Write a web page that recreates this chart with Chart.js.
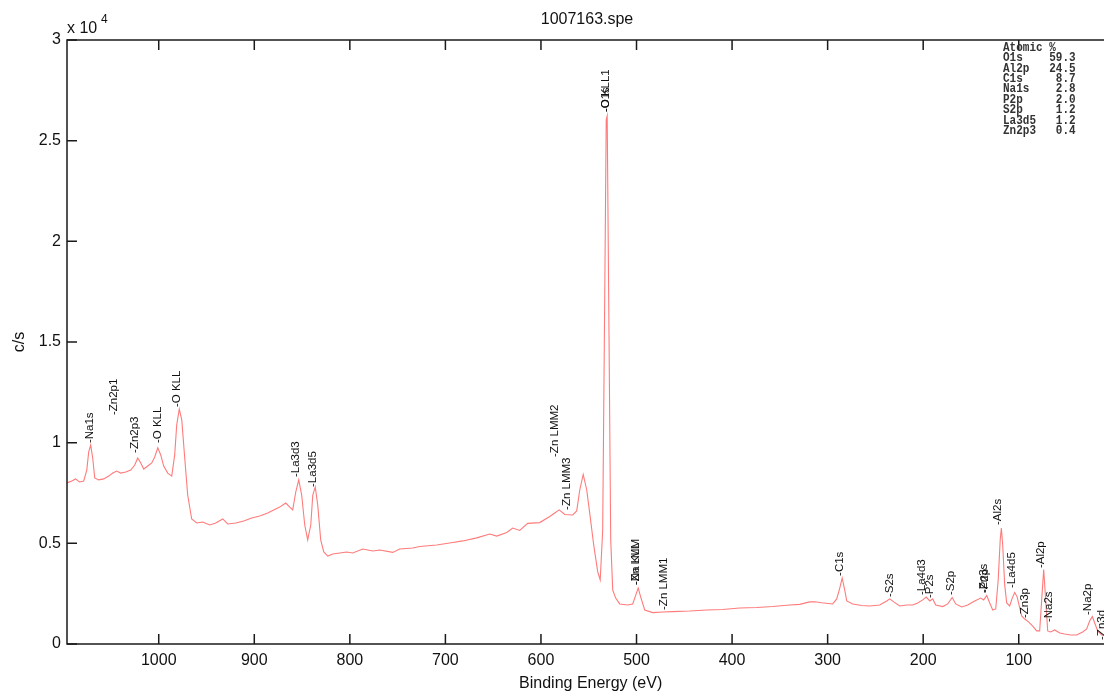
<!DOCTYPE html>
<html>
<head>
<meta charset="utf-8">
<title>1007163.spe</title>
<script src="https://cdn.jsdelivr.net/npm/chart.js@4.4.1/dist/chart.umd.min.js"></script>
<style>
    html, body { margin: 0; padding: 0; background: #fff; overflow: hidden; }
    #wrap { width: 1130px; height: 693px; }
</style>
</head>
<body>
<div id="wrap"><canvas id="survey" width="1130" height="693"></canvas></div>
<script>
// binding energy (eV) and intensity (c/s)
const BE = [
    1096, 1091, 1087, 1083, 1078.5, 1075.3, 1073.3, 1071.2, 1069.1, 1067,
    1062.8, 1057.6, 1052.3, 1048.1, 1044, 1039.8, 1034.5, 1029.3, 1025.1, 1022,
    1018.8, 1015.7, 1011.5, 1007.3, 1004.2, 1001, 997.9, 994.8, 990.6, 986.4,
    983.3, 981.2, 978.5, 975.9, 972.8, 969.7, 965.5, 960.2, 954, 946.6,
    940.4, 933, 927.8, 919.4, 911.1, 902.7, 894.3, 885.9, 879.7, 873.4,
    867.1, 862.9, 859.8, 856.6, 853.5, 850.4, 847.2, 844.1, 840.9, 838.8,
    836.2, 833.6, 830.5, 827.3, 823.1, 817.9, 810.6, 803.3, 797, 786.5,
    776, 768.7, 755.1, 747.8, 734.2, 726.9, 709.1, 692.3, 681.8, 667.2,
    653.6, 646.3, 635.8, 629.6, 622.2, 613.9, 601.3, 590.8, 585.6, 580.9,
    575.1, 566.8, 562.6, 559.4, 555.8, 552.1, 549, 544.8, 540.6, 538,
    535.4, 533.3, 531.7, 530.7, 529.1, 527, 524.9, 521.8, 517.6, 509.2,
    504, 500.8, 498.2, 495.6, 491.4, 483, 472.6, 462.1, 444.3, 426.5,
    409.8, 392, 374.2, 357.5, 339.7, 329.2, 318.8, 313.5, 306.2, 294.7,
    290.5, 287.3, 284.8, 282.1, 280, 273.7, 264.3, 256, 245.5, 238.2,
    235, 230.8, 224.6, 217.3, 211, 205.7, 200.5, 196.8, 193.1, 190,
    186.9, 179.5, 174.3, 169.6, 166, 159.7, 153.4, 146.1, 139.8, 136.7,
    133.5, 130.4, 127.2, 124.1, 121.5, 119.4, 118.2, 116.8, 114.7, 112.6,
    109.5, 106.8, 104.2, 101.6, 99, 96.9, 93.7, 89.5, 85.4, 81.2,
    78.1, 76, 73.9, 71.8, 69.7, 66.6, 62.4, 57.1, 51.9, 45.6,
    39.4, 33.1, 28.9, 25.8, 23, 20.5, 17.4, 13.2, 6.9, 0.6
];
const COUNTS = [
    8000, 8100, 8200, 8050, 8100, 8640, 9540, 9880, 9240, 8250,
    8150, 8200, 8340, 8490, 8590, 8490, 8540, 8640, 8890, 9240,
    8990, 8690, 8840, 8990, 9290, 9740, 9390, 8840, 8490, 8340,
    9390, 10880, 11670, 11130, 9240, 7400, 6210, 6010, 6060, 5910,
    6010, 6210, 5960, 6010, 6110, 6260, 6360, 6510, 6660, 6800,
    7000, 6800, 6660, 7550, 8150, 7400, 5910, 5170, 5910, 7400,
    7800, 6900, 5170, 4570, 4370, 4470, 4520, 4570, 4520, 4720,
    4620, 4670, 4550, 4720, 4770, 4840, 4920, 5040, 5120, 5270,
    5460, 5360, 5540, 5760, 5640, 5990, 6030, 6330, 6510, 6660,
    6430, 6410, 6610, 7650, 8420, 7650, 6510, 4920, 3580, 3180,
    5660, 17090, 26030, 26230, 17090, 5170, 2680, 2280, 1990, 1940,
    1990, 2430, 2780, 2330, 1690, 1560, 1590, 1610, 1640, 1690,
    1710, 1790, 1810, 1860, 1940, 1970, 2090, 2100, 2050, 1990,
    2240, 2780, 3280, 2680, 2140, 1990, 1910, 1890, 1940, 2140,
    2240, 2090, 1890, 1940, 1940, 2040, 2190, 2330, 2140, 2240,
    1940, 1860, 1990, 2310, 1990, 1840, 1940, 2140, 2280, 2190,
    2410, 2040, 1690, 1740, 3180, 5170, 5760, 4920, 2930, 2040,
    1890, 2280, 2560, 2330, 1790, 1390, 1240, 1090, 890, 650,
    650, 2190, 3700, 2190, 650, 600, 700, 550, 500, 450,
    450, 600, 750, 1140, 1360, 1040, 650, 450, 400, 350
];

// peak labels: name, energy, and the intensity where the label starts
const PEAK_NAMES = ['Na1s', 'Zn2p1', 'Zn2p3', 'O KLL', 'O KLL', 'La3d3', 'La3d5',
    'Zn LMM2', 'Zn LMM3', 'O1s', 'O KLL1', 'Na KLL', 'Zn LMM', 'Zn LMM1',
    'C1s', 'S2s', 'La4d3', 'P2s', 'S2p', 'Zn3s', 'P2p', 'Al2s', 'La4d5',
    'Zn3p', 'Al2p', 'Na2s', 'Na2p', 'Zn3d'];
const PEAK_BE = [1072, 1047.5, 1025, 1001, 981.5, 856.5, 838.5,
    585.5, 573, 532, 532, 501, 501, 471.5,
    287, 235, 201.5, 193, 171, 137, 136, 121.5, 107.5,
    93.5, 77, 68, 27.5, 13.5];
const PEAK_LABEL_AT = [9980, 11370, 9490, 9980, 11770, 8290, 7800,
    9290, 6660, 26420, 26420, 2930, 2930, 1690,
    3380, 2330, 2430, 2280, 2430, 2530, 2530, 5910, 2780,
    1290, 3770, 1090, 1440, 200];

const ATOMIC_NAMES = ['O1s', 'Al2p', 'C1s', 'Na1s', 'P2p', 'S2p', 'La3d5', 'Zn2p3'];
const ATOMIC_PCT = [59.3, 24.5, 8.7, 2.8, 2.0, 1.2, 1.2, 0.4];

const X_TICKS = [1000, 900, 800, 700, 600, 500, 400, 300, 200, 100, 0];
const Y_TICKS = [0, 5000, 10000, 15000, 20000, 25000, 30000];

const points = BE.map(function (e, i) { return { x: e, y: COUNTS[i] }; });

const tickFont = { family: "'Liberation Sans', Arial, sans-serif", size: 16 };

/**
 * frame with inward ticks, peak labels, the table and the titles
 */
const decorPlugin = {
    id: 'decor',
    afterDatasetsDraw: function (chart) {
        const ctx = chart.ctx;
        const area = chart.chartArea;
        const xs = chart.scales.x;
        const ys = chart.scales.y;

        ctx.save();
        ctx.strokeStyle = '#1a1a1a';
        ctx.lineWidth = 1.5;
        ctx.strokeRect(area.left, area.top, area.right - area.left, area.bottom - area.top);

        ctx.beginPath();
        X_TICKS.forEach(function (v) {
            const px = xs.getPixelForValue(v);
            ctx.moveTo(px, area.bottom);
            ctx.lineTo(px, area.bottom - 10);
            ctx.moveTo(px, area.top);
            ctx.lineTo(px, area.top + 10);
        });
        Y_TICKS.forEach(function (v) {
            const py = ys.getPixelForValue(v);
            ctx.moveTo(area.left, py);
            ctx.lineTo(area.left + 10, py);
            ctx.moveTo(area.right, py);
            ctx.lineTo(area.right - 10, py);
        });
        ctx.stroke();

        // peak labels, rotated, reading upwards
        ctx.fillStyle = '#111';
        ctx.font = "11.5px 'Liberation Sans', Arial, sans-serif";
        ctx.textAlign = 'left';
        ctx.textBaseline = 'middle';
        PEAK_NAMES.forEach(function (name, i) {
            const px = xs.getPixelForValue(PEAK_BE[i]);
            const py = ys.getPixelForValue(PEAK_LABEL_AT[i]);
            ctx.save();
            ctx.translate(px, py);
            ctx.rotate(-Math.PI / 2);
            ctx.fillText('-' + name, 0, 0);
            ctx.restore();
        });

        // atomic % table
        ctx.fillStyle = '#333';
        ctx.font = "bold 11px 'Liberation Mono', 'DejaVu Sans Mono', monospace";
        ctx.textBaseline = 'middle';
        const lines = ['Atomic %'];
        ATOMIC_NAMES.forEach(function (n, i) {
            const val = ATOMIC_PCT[i].toFixed(1);
            lines.push(n.padEnd(7, ' ') + val.padStart(4, ' '));
        });
        lines.forEach(function (line, i) {
            ctx.save();
            ctx.translate(1003, 47.5 + i * 10.4);
            ctx.scale(1, 1.2);
            ctx.fillText(line, 0, 0);
            ctx.restore();
        });

        // title and multiplier
        ctx.fillStyle = '#111';
        ctx.font = "16px 'Liberation Sans', Arial, sans-serif";
        ctx.textAlign = 'center';
        ctx.textBaseline = 'alphabetic';
        ctx.fillText('1007163.spe', 587, 24);

        ctx.textAlign = 'left';
        ctx.fillText('x 10', 67, 33);
        ctx.font = "12px 'Liberation Sans', Arial, sans-serif";
        ctx.fillText('4', 101, 23);
        ctx.restore();
    }
};

const survey = new Chart(document.getElementById('survey'), {
    type: 'scatter',
    data: {
        datasets: [{
            data: points,
            showLine: true,
            borderColor: '#ff7b7b',
            borderWidth: 1.1,
            pointRadius: 0,
            tension: 0
        }]
    },
    options: {
        responsive: false,
        animation: false,
        layout: { padding: { top: 40, right: 15.7, left: 0, bottom: 0 } },
        plugins: {
            legend: { display: false },
            tooltip: { enabled: false },
            title: { display: false }
        },
        scales: {
            x: {
                type: 'linear',
                reverse: true,
                min: 0,
                max: 1096,
                afterBuildTicks: function (scale) {
                    scale.ticks = X_TICKS.map(function (v) { return { value: v }; });
                },
                afterFit: function (scale) { scale.height = 49; },
                grid: { display: false, drawTicks: false },
                border: { display: false },
                ticks: {
                    color: '#111',
                    font: tickFont,
                    padding: 7,
                    maxRotation: 0,
                    callback: function (v) { return v === 0 ? '' : String(v); }
                },
                title: {
                    display: true,
                    text: 'Binding Energy (eV)',
                    color: '#111',
                    font: tickFont,
                    padding: { top: 0, bottom: 0 }
                }
            },
            y: {
                min: 0,
                max: 30000,
                afterBuildTicks: function (scale) {
                    scale.ticks = Y_TICKS.map(function (v) { return { value: v }; });
                },
                afterFit: function (scale) { scale.width = 67; },
                grid: { display: false, drawTicks: false },
                border: { display: false },
                ticks: {
                    color: '#111',
                    font: tickFont,
                    padding: 6,
                    callback: function (v) { return String(v / 10000); }
                },
                title: {
                    display: true,
                    text: 'c/s',
                    color: '#111',
                    font: tickFont,
                    padding: { top: 10, bottom: 0 }
                }
            }
        }
    },
    plugins: [decorPlugin]
});
</script>
</body>
</html>
